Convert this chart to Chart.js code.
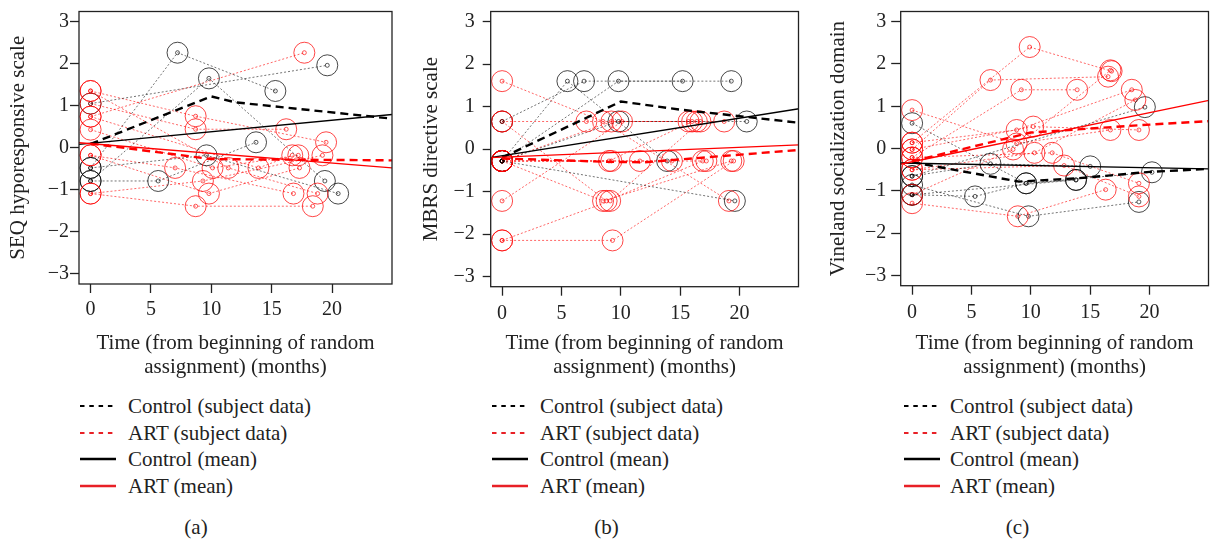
<!DOCTYPE html>
<html>
<head>
<meta charset="utf-8">
<script src="https://cdn.jsdelivr.net/npm/chart.js@4.4.1/dist/chart.umd.min.js"></script>
<style>
  html, body { margin:0; padding:0; background:#fff; overflow:hidden; }
  #wrap { position:relative; width:1213px; height:541px; overflow:hidden; background:#fff;
          font-family:'Liberation Serif', 'Times New Roman', serif; color:#222; }
  canvas { position:absolute; top:0; }
  .leg { position:absolute; height:26px; line-height:26px; font-size:21px; white-space:nowrap;
         font-family:'Liberation Serif', 'Times New Roman', serif; }
  .leg svg { position:absolute; left:0; top:11px; }
  .leg span { position:absolute; }
  .cap { position:absolute; font-size:21px; line-height:26px; top:514px; transform:translateX(-50%);
         font-family:'Liberation Serif', 'Times New Roman', serif; }
</style>
</head>
<body>
<div id="wrap">
  <canvas id="ca" width="404" height="380" style="left:0px"></canvas>
  <canvas id="cb" width="406" height="380" style="left:404px"></canvas>
  <canvas id="cc" width="410" height="380" style="left:810px"></canvas>
</div>
<script>
// ---------- shared axis values ----------
const xTicks = [0, 5, 10, 15, 20];
const xTickLabels = ['0', '5', '10', '15', '20'];
const yTicks = [-3, -2, -1, 0, 1, 2, 3];
const yTickLabels = ['\u22123', '\u22122', '\u22121', '0', '1', '2', '3'];
const xTitle = ['Time (from beginning of random', 'assignment) (months)'];
const legendLabels = ['Control (subject data)', 'ART (subject data)', 'Control (mean)', 'ART (mean)'];
const panelTitles = ['SEQ hyporesponsive scale', 'MBRS directive scale', 'Vineland socialization domain'];
const panelCaptions = ['(a)', '(b)', '(c)'];

// ---------- panel (a): SEQ hyporesponsive scale ----------
const aCtrlSubjects = [
  [[0,-0.48],[7.2,2.26],[15.3,1.35]],
  [[0,-0.79],[9.8,1.65],[19.4,-0.79]],
  [[0,1.05],[19.6,1.96]],
  [[0,-0.79],[5.6,-0.79],[13.7,0.13]],
  [[0,-0.48],[9.6,-0.18],[20.5,-1.09]]
];
const aArtSubjects = [
  [[0,1.35],[8.7,0.75],[19.5,0.13]],
  [[0,0.74],[17.7,2.26]],
  [[0,1.05],[8.7,0.44],[16.2,0.44]],
  [[0,0.43],[10.1,-0.48],[17.2,-0.18]],
  [[0,-0.18],[7.0,-0.48],[16.8,-1.09]],
  [[0,-1.09],[9.3,-0.79],[19.2,-0.18]],
  [[0,-1.09],[8.7,-1.39],[18.4,-1.39]],
  [[0,-0.18],[9.8,-1.09],[17.3,-0.48]],
  [[0,1.35],[11.4,-0.48],[18.8,-1.09]],
  [[0,0.74],[13.9,-0.48],[16.7,-0.18]]
];
const aCtrlMean = [[0,0.09],[10,1.22],[12,1.08],[25,0.69]];
const aArtMean  = [[0,0.10],[10,-0.27],[25,-0.30]];
const aCtrlFit  = [[-1,0.08],[25,0.79]];
const aArtFit   = [[-1,0.12],[25,-0.48]];

// ---------- panel (b): MBRS directive scale ----------
const bCtrlSubjects = [
  [[0,-0.28],[5.5,1.6],[13.9,-0.28]],
  [[0,0.65],[6.9,1.6],[15.2,1.6]],
  [[0,-0.28],[9.8,1.6],[19.3,1.6]],
  [[0,-0.28],[9.8,0.65],[20.6,0.65]],
  [[0,-0.28],[19.6,-1.22]]
];
const bArtSubjects = [
  [[0,1.6],[8.5,0.65],[19.1,-1.22]],
  [[0,0.65],[7.1,0.65],[15.7,0.65]],
  [[0,0.65],[8.8,-1.22],[16.9,-0.28]],
  [[0,-0.28],[9.0,-0.28],[16.0,0.65]],
  [[0,-0.28],[9.2,-0.28],[17.2,-0.28]],
  [[0,-0.28],[8.5,-1.22],[19.3,-0.28]],
  [[0,-1.22],[10.1,0.65],[18.7,0.65]],
  [[0,-2.15],[9.3,-2.15],[19.5,-0.28]],
  [[0,-2.15],[9.1,-1.22],[16.7,0.65]],
  [[0,-0.28],[11.6,-0.28],[14.3,-0.28]],
  [[0,-0.28],[9.2,0.65],[16.4,0.65]]
];
const bCtrlMean = [[0,-0.20],[10,1.12],[15,0.93],[25,0.62]];
const bArtMean  = [[0,-0.22],[9,-0.30],[12,-0.31],[25,-0.02]];
const bCtrlFit  = [[-1,-0.20],[25,0.95]];
const bArtFit   = [[-1,-0.20],[25,0.10]];

// ---------- panel (c): Vineland socialization domain ----------
const cCtrlSubjects = [
  [[0,0.6],[9.6,-0.82],[13.8,-0.74]],
  [[0,-0.65],[6.6,-0.36],[15.0,-0.42]],
  [[0,-0.86],[9.8,-1.6],[19.1,-1.26]],
  [[0,-1.09],[5.3,-1.13],[9.6,-0.82],[20.2,-0.56]],
  [[0,-0.65],[19.6,0.98]],
  [[0,-1.09],[13.8,-0.74]]
];
const cArtSubjects = [
  [[0,0.91],[8.8,0.12],[16.7,0.44]],
  [[0,0.14],[9.9,2.4],[16.8,1.83]],
  [[0,-0.02],[6.6,1.62],[16.5,1.7]],
  [[0,-0.21],[9.2,1.39],[13.9,1.39]],
  [[0,0.14],[8.8,0.44],[18.5,1.39]],
  [[0,-0.02],[10.2,0.52],[19.1,0.44]],
  [[0,-0.5],[10.3,-0.1],[18.8,1.15]],
  [[0,-0.21],[11.8,-0.1],[19.1,-0.82]],
  [[0,-0.5],[12.8,-0.4],[19.1,-1.13]],
  [[0,-1.29],[8.9,-1.6],[16.3,-0.97]],
  [[0,-1.09],[8.5,-0.02],[16.7,1.85]]
];
const cCtrlMean = [[0,-0.32],[9,-0.78],[14,-0.70],[20,-0.55],[25,-0.48]];
const cArtMean  = [[0,-0.30],[10,0.38],[19,0.55],[25,0.65]];
const cCtrlFit  = [[-1,-0.34],[25,-0.48]];
const cArtFit   = [[-1,-0.37],[25,1.14]];

// ---------- styling ----------
const RED = 'rgb(255,0,0)';
const BLK = 'rgb(0,0,0)';
const RED_PT = 'rgba(255,0,0,0.72)';
const BLK_PT = 'rgba(0,0,0,0.72)';
const RED_DOT = 'rgba(255,0,0,0.6)';
const BLK_DOT = 'rgba(0,0,0,0.55)';
const LEG_RED = 'rgb(232,32,38)';

Chart.defaults.font.family = "'Liberation Serif', 'Times New Roman', serif";
Chart.defaults.color = '#222';

function pts(arr) { return arr.map(([x, y]) => ({ x, y })); }

function buildDatasets(ctrlSubj, artSubj, ctrlMean, artMean, ctrlFit, artFit) {
  const ds = [];
  const line = (data, color, width, dash) => ({
    data: pts(data), showLine: true, borderColor: color, borderWidth: width,
    borderDash: dash, pointRadius: 0, fill: false, tension: 0
  });
  ds.push(line(artFit, RED, 1.4, []));
  ds.push(line(ctrlFit, BLK, 1.4, []));
  ds.push(line(artMean, RED, 2.4, [8, 5]));
  ds.push(line(ctrlMean, BLK, 2.4, [8, 5]));
  const circles = (subj, color) => ({
    data: pts(subj.flat()), showLine: false, pointRadius: 10.5, pointBorderWidth: 1,
    pointBorderColor: color, pointBackgroundColor: 'rgba(0,0,0,0)'
  });
  ds.push(circles(artSubj, RED_PT));
  ds.push(circles(ctrlSubj, BLK_PT));
  const subjLine = (s, color, ptColor) => ({
    data: pts(s), showLine: true, borderColor: color, borderWidth: 1, borderDash: [2, 2],
    pointRadius: 2, pointBorderWidth: 0.9, pointBorderColor: ptColor,
    pointBackgroundColor: 'rgba(0,0,0,0)', tension: 0
  });
  ctrlSubj.forEach(s => ds.push(subjLine(s, BLK_DOT, BLK_PT)));
  artSubj.forEach(s => ds.push(subjLine(s, RED_DOT, RED_PT)));
  return ds;
}

const framePlugin = {
  id: 'frame',
  afterDatasetsDraw(chart) {
    const { ctx, chartArea: a } = chart;
    ctx.save();
    ctx.strokeStyle = '#222';
    ctx.lineWidth = 1.3;
    ctx.strokeRect(a.left, a.top, a.right - a.left, a.bottom - a.top);
    ctx.restore();
  }
};

function makeChart(id, p, datasets, yTitle) {
  return new Chart(document.getElementById(id), {
    type: 'scatter',
    data: { datasets },
    plugins: [framePlugin],
    options: {
      responsive: false, animation: false, devicePixelRatio: 1, events: [],
      layout: { padding: { top: p.top, right: p.right, bottom: 0, left: 0 } },
      plugins: { legend: { display: false }, tooltip: { enabled: false } },
      scales: {
        x: {
          type: 'linear', min: -0.96, max: 24.96, bounds: 'data',
          afterBuildTicks: s => { s.ticks = xTicks.map(v => ({ value: v })); },
          afterFit: s => { s.height = p.xh; s.paddingLeft = 0; s.paddingRight = 0; },
          ticks: { callback: v => xTickLabels[xTicks.indexOf(v)], font: { size: 20 }, color: '#222',
                   padding: p.xpad, maxRotation: 0, autoSkip: false },
          grid: { drawOnChartArea: false, drawTicks: true, tickLength: 9, tickColor: '#222', tickWidth: 1.3 },
          border: { display: false },
          title: { display: true, text: xTitle, font: { size: 21, lineHeight: 1.15 }, color: '#222',
                   padding: { top: 0, bottom: p.xtb } }
        },
        y: {
          type: 'linear', min: -3.24, max: 3.24, bounds: 'data',
          afterBuildTicks: s => { s.ticks = yTicks.map(v => ({ value: v })); },
          afterFit: s => { s.width = p.yw; s.paddingTop = 0; s.paddingBottom = 0; },
          ticks: { callback: v => yTickLabels[yTicks.indexOf(v)], font: { size: 20 }, color: '#222',
                   padding: p.ypad, autoSkip: false },
          grid: { drawOnChartArea: false, drawTicks: true, tickLength: p.ytl, tickColor: '#222', tickWidth: 1.3 },
          border: { display: false },
          title: { display: true, text: yTitle, font: { size: 21, lineHeight: 1.15 }, color: '#222',
                   padding: { top: p.ytp, bottom: 0 } }
        }
      }
    }
  });
}

makeChart('ca', { top: 4, right: 12, xh: 96, xpad: 5, xtb: 0, yw: 79, ypad: 1, ytl: 9, ytp: 6 },
  buildDatasets(aCtrlSubjects, aArtSubjects, aCtrlMean, aArtMean, aCtrlFit, aArtFit), panelTitles[0]);
makeChart('cb', { top: 6, right: 6, xh: 93.3, xpad: 6, xtb: 0, yw: 86.7, ypad: 8, ytl: 8, ytp: 15.5 },
  buildDatasets(bCtrlSubjects, bArtSubjects, bCtrlMean, bArtMean, bCtrlFit, bArtFit), panelTitles[1]);
makeChart('cc', { top: 5.3, right: 6, xh: 94.3, xpad: 6, xtb: 0, yw: 90.7, ypad: 5, ytl: 9.5, ytp: 16.2 },
  buildDatasets(cCtrlSubjects, cArtSubjects, cCtrlMean, cArtMean, cCtrlFit, cArtFit), panelTitles[2]);

// ---------- legends and captions (HTML text) ----------
const wrap = document.getElementById('wrap');
const legendX = [[80, 128], [492, 540], [904, 950]];
const legendRowsY = [406, 432.5, 459, 485.5];
const legendStyles = [
  { color: BLK, dash: '4.5 4.8', w: 1.8 },
  { color: LEG_RED, dash: '4.5 4.8', w: 1.8 },
  { color: BLK, dash: '', w: 2.3 },
  { color: LEG_RED, dash: '', w: 2.3 }
];
const captionX = [196, 606.5, 1017.5];
legendX.forEach(([lx, tx], pi) => {
  legendLabels.forEach((lab, i) => {
    const st = legendStyles[i];
    const row = document.createElement('div');
    row.className = 'leg';
    row.style.left = lx + 'px';
    row.style.top = (legendRowsY[i] - 13) + 'px';
    row.innerHTML = `<svg width="37" height="4"><line x1="0" y1="2" x2="36" y2="2" stroke="${st.color}" stroke-width="${st.w}" ${st.dash ? `stroke-dasharray="${st.dash}"` : ''}/></svg>` +
      `<span style="left:${tx - lx}px">${lab}</span>`;
    wrap.appendChild(row);
  });
  const cap = document.createElement('div');
  cap.className = 'cap';
  cap.style.left = captionX[pi] + 'px';
  cap.textContent = panelCaptions[pi];
  wrap.appendChild(cap);
});
</script>
</body>
</html>
